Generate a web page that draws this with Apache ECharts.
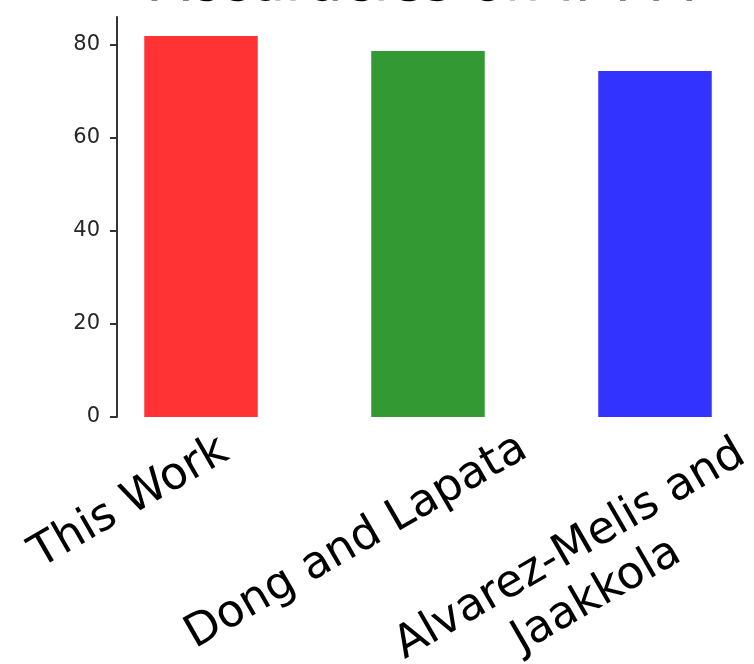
<!DOCTYPE html>
<html>
<head>
<meta charset="utf-8">
<script src="https://cdn.jsdelivr.net/npm/echarts@6/dist/echarts.min.js"></script>
<style>html,body{margin:0;padding:0;background:#fff}#c{width:754px;height:664px}</style>
</head>
<body>
<div id="c"></div>
<script>
const titleText = 'Accuracies on IFTTT';
const categories = ['This Work', 'Dong and Lapata', 'Alvarez-Melis and\nJaakkola'];
const accuracies = [81.9, 78.7, 74.4];
const barColors = ['#ff3333', '#339933', '#3333ff'];
const yTicks = [0, 20, 40, 60, 80];

const FONT = 'DejaVu Sans';
const labelMargins = [86, 125, 156];

const chart = echarts.init(document.getElementById('c'), null, {renderer: 'canvas'});

const labelAxes = categories.map((c, k) => ({
  type: 'category',
  gridIndex: 1,
  position: 'bottom',
  data: categories,
  axisLine: {show: false},
  axisTick: {show: false},
  splitLine: {show: false},
  axisLabel: {
    interval: 0,
    rotate: 30,
    align: 'center',
    verticalAlign: 'middle',
    margin: labelMargins[k],
    fontFamily: FONT,
    fontSize: 45,
    lineHeight: 53,
    color: '#000',
    formatter: (v, i) => (i === k ? v : '')
  }
}));

chart.setOption({
  animation: false,
  backgroundColor: '#fff',
  title: {
    text: titleText,
    left: 146,
    top: -48,
    textStyle: {fontFamily: FONT, fontSize: 56, fontWeight: 'normal', color: '#000'}
  },
  grid: [
    {left: 87.5, width: 681, top: 17, height: 400, outerBoundsMode: 'none', containLabel: false},
    {left: 16, width: 681, top: 17, height: 400, outerBoundsMode: 'none', containLabel: false}
  ],
  xAxis: [{
    type: 'category',
    gridIndex: 0,
    data: categories,
    axisLine: {show: false},
    axisTick: {show: false},
    axisLabel: {show: false}
  }].concat(labelAxes),
  yAxis: [{
    type: 'value',
    gridIndex: 0,
    min: 0,
    max: 86,
    offset: -29.5,
    axisLine: {show: true, lineStyle: {color: '#333', width: 2}},
    axisTick: {show: true, length: 7, lineStyle: {color: '#333', width: 2}, customValues: yTicks},
    axisLabel: {margin: 17, fontFamily: FONT, fontSize: 21, color: '#262626', customValues: yTicks},
    splitLine: {show: false}
  }, {
    type: 'value', gridIndex: 1, min: 0, max: 86, show: false
  }],
  series: [{
    type: 'bar',
    xAxisIndex: 0,
    yAxisIndex: 0,
    barWidth: '50%',
    data: accuracies.map((v, i) => ({value: v, itemStyle: {color: barColors[i]}}))
  }]
});
</script>
</body>
</html>
